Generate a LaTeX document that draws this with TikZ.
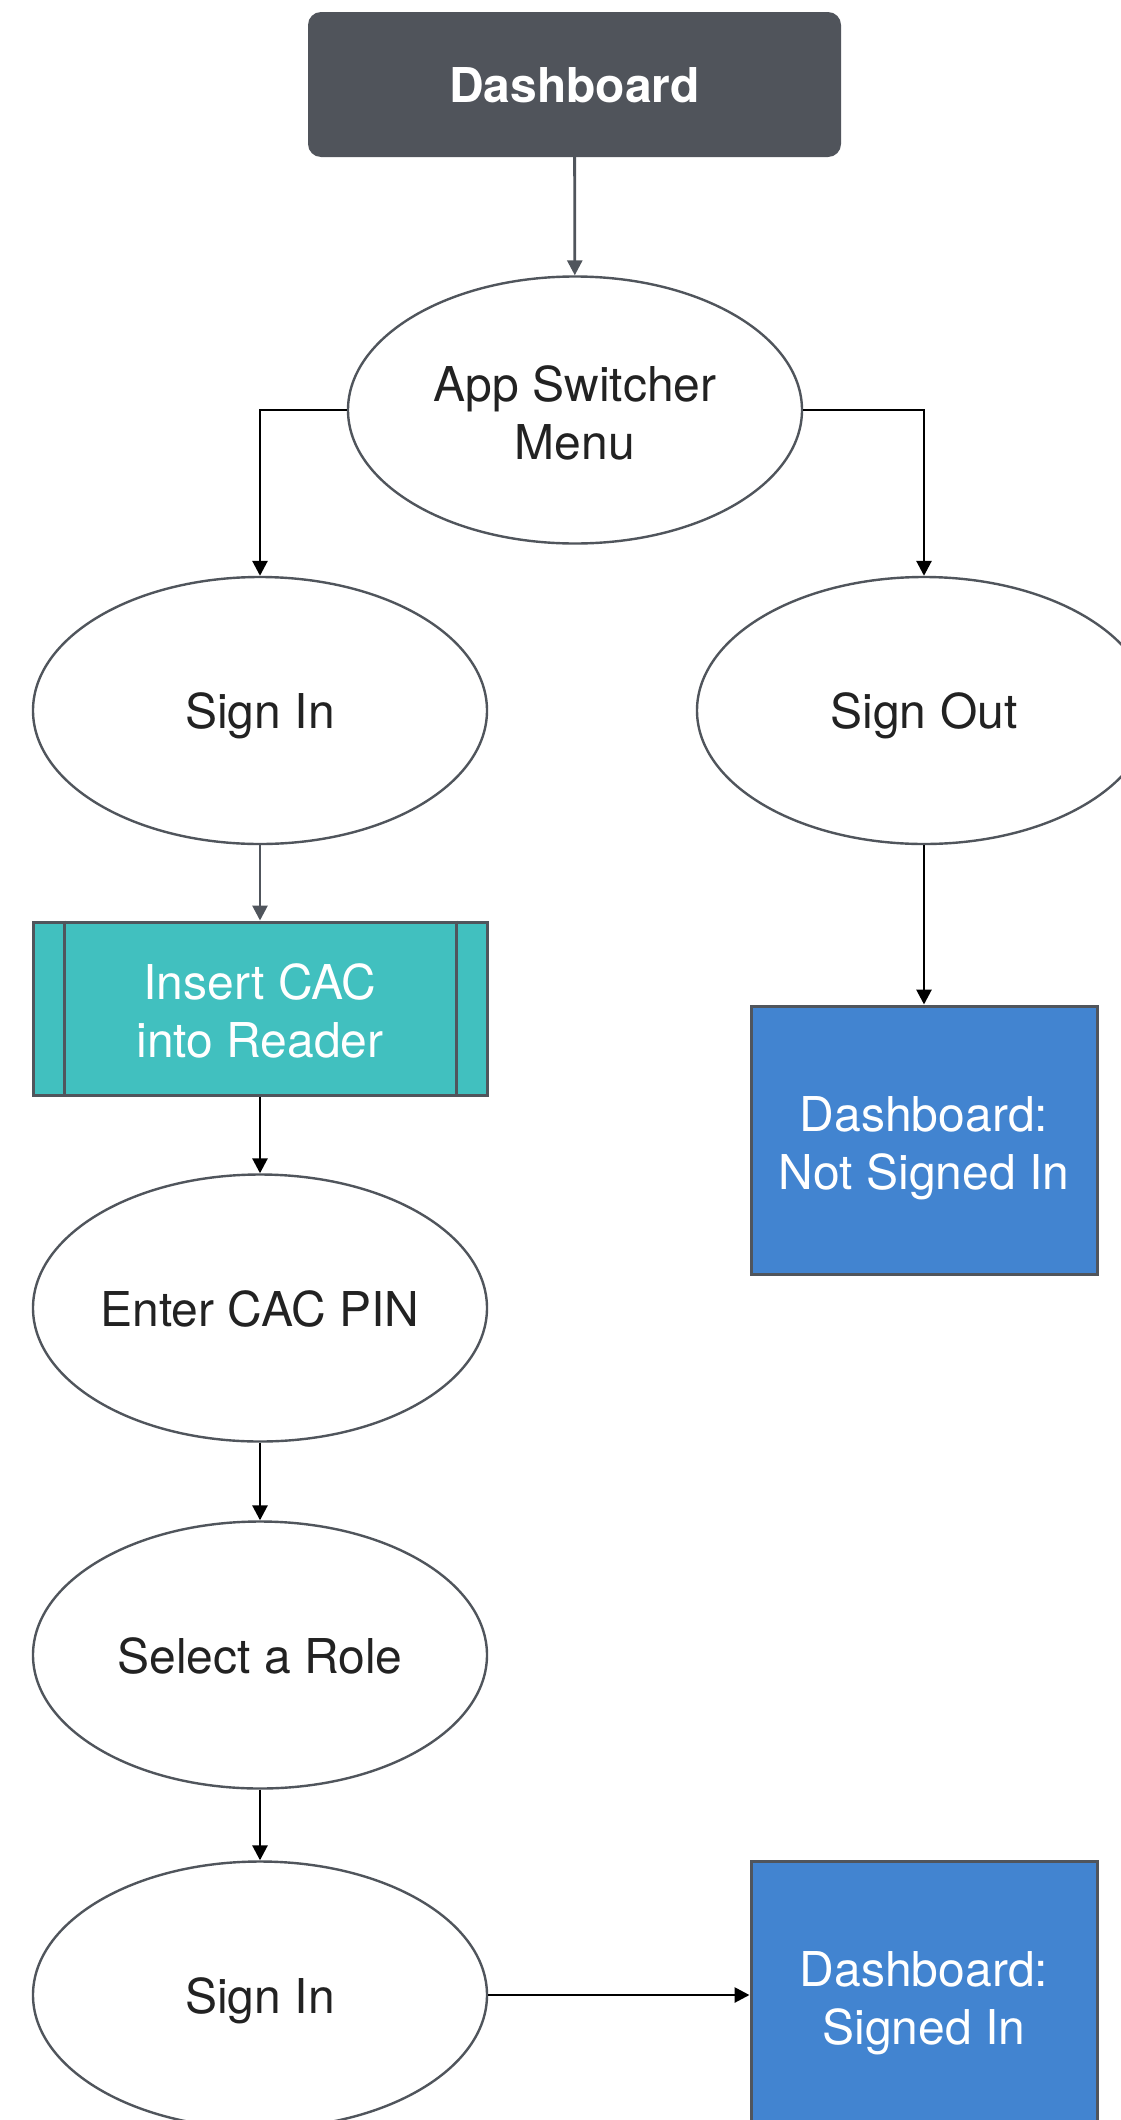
\documentclass[tikz,border=0pt]{standalone}
\usepackage{fontspec}
\setmainfont{TeX Gyre Heros}
\usetikzlibrary{shapes.geometric,arrows.meta}
\definecolor{edgegray}{HTML}{50555C}
\definecolor{headgray}{HTML}{50545B}
\definecolor{cacteal}{HTML}{41C0BF}
\definecolor{stateblue}{HTML}{4284D0}
\definecolor{inktext}{HTML}{222222}

\begin{document}
\begin{tikzpicture}[x=1pt,y=-1pt,
  every node/.style={font=\fontsize{48}{58}\selectfont, align=center},
  oneline/.style={text height=36pt, text depth=0pt},
  twolines/.style={text height=98pt, text depth=0pt},
  oval/.style={ellipse, draw=edgegray, line width=2.4pt, fill=white, text=inktext,
    minimum width=454pt, minimum height=267pt, inner sep=0pt},
  headbox/.style={rectangle, rounded corners=13pt, fill=headgray, text=white,
    minimum width=533pt, minimum height=145pt, inner sep=0pt},
  procbox/.style={rectangle, draw=edgegray, line width=3pt, fill=cacteal, text=white,
    minimum width=454pt, minimum height=173pt, inner sep=0pt},
  statebox/.style={rectangle, draw=edgegray, line width=3pt, fill=stateblue, text=white,
    minimum width=346pt, minimum height=268pt, inner sep=0pt},
  flow/.style={-{Triangle[length=15pt,width=15pt]}, line width=2.8pt, black},
  flowgray/.style={-{Triangle[length=15pt,width=15pt]}, line width=2.8pt, edgegray},
]
\useasboundingbox[fill=white] (0,0) rectangle (1121,2120);

% nodes
\node[headbox, oneline] (dash) at (574.5,84.5) {\bfseries Dashboard};
\node[oval, twolines] (menu) at (575,410) {App Switcher\\Menu};
\node[oval, oneline] (signin) at (260,710.5) {Sign In};
\node[oval, oneline] (signout) at (924,710.5) {Sign Out};
\node[procbox, twolines] (insert) at (260,1008.5) {Insert CAC\\into Reader};
\draw[edgegray, line width=3pt]
  ([xshift=32.5pt]insert.north west) -- ([xshift=32.5pt]insert.south west)
  ([xshift=-32.5pt]insert.north east) -- ([xshift=-32.5pt]insert.south east);
\node[oval, oneline] (pin) at (260,1308) {Enter CAC PIN};
\node[oval, oneline] (role) at (260,1655) {Select a Role};
\node[oval, oneline] (signin2) at (260,1995) {Sign In};
\node[statebox, twolines] (notin) at (924,1140) {Dashboard:\\Not Signed In};
\node[statebox, twolines] (yesin) at (924,1995) {Dashboard:\\Signed In};

% connectors
\draw[flowgray] (dash) -- (menu);
\draw[flow] (menu.west) -| (signin.north);
\draw[flow] (menu.east) -| (signout.north);
\draw[flowgray] (signin) -- (insert);
\draw[flow] (insert) -- (pin);
\draw[flow] (pin) -- (role);
\draw[flow] (role) -- (signin2);
\draw[flow] (signout) -- (notin);
\draw[flow] (signin2.east) -- (yesin.west);
\end{tikzpicture}
\end{document}
